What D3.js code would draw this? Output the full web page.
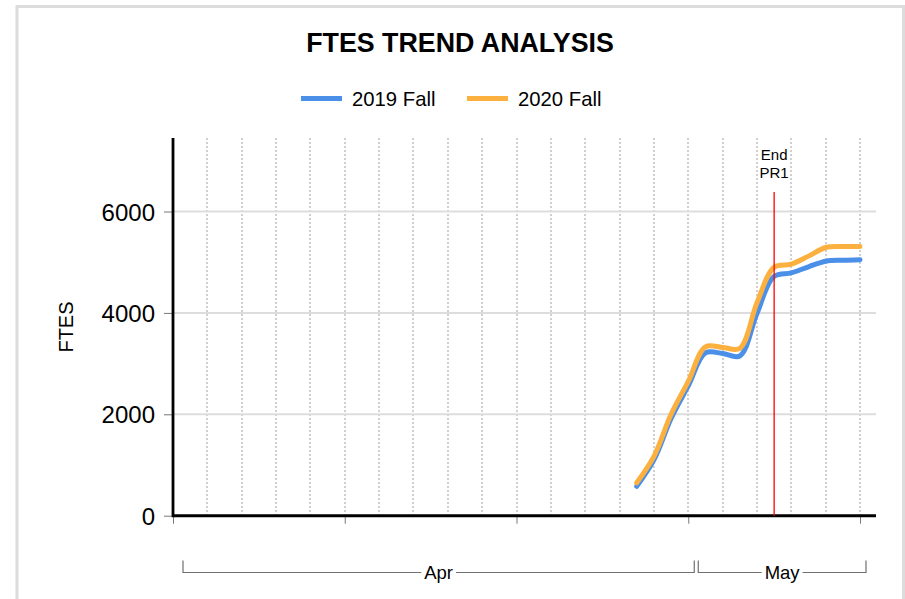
<!DOCTYPE html>
<html>
<head>
<meta charset="utf-8">
<script src="https://cdn.jsdelivr.net/npm/d3@7"></script>
<style>
  html, body { margin: 0; padding: 0; background: #fff; }
  svg { display: block; font-family: "Liberation Sans", Arial, sans-serif; }
</style>
</head>
<body>
<svg id="chart" width="905" height="599"></svg>
<script>
// ---- data ----
const dates = ["2020-04-28","2020-04-29","2020-04-30","2020-05-01","2020-05-02","2020-05-03","2020-05-04",
               "2020-05-05","2020-05-06","2020-05-07","2020-05-08","2020-05-09","2020-05-10","2020-05-11"];
const fall2019 = [580, 1100, 1920, 2560, 3210, 3200, 3150, 3990, 4720, 4790, 4910, 5020, 5040, 5050];
const fall2020 = [650, 1170, 2000, 2650, 3330, 3320, 3300, 4200, 4900, 4960, 5120, 5290, 5310, 5310];
const seriesNames = ["2019 Fall", "2020 Fall"];
const seriesColors = ["#4a8fe8", "#fbb040"];
const yTicks = [0, 2000, 4000, 6000];
const months = ["Apr", "May"];
const monthStarts = ["2020-04-01", "2020-05-01"];
const monthEnds = ["2020-05-01", "2020-06-01"];
const markerDate = "2020-05-06";
const markerLabel = ["End", "PR1"];
const domainStart = "2020-04-01T00:00";
const domainEnd = "2020-05-11T22:20";
const yMax = 7450;

(function () {
// ---- setup ----
const parse = d3.utcParse("%Y-%m-%d");
const parseT = d3.utcParse("%Y-%m-%dT%H:%M");
const svg = d3.select("#chart");
const pL = 173, pR = 876, pT = 138, pB = 515.7;

const x = d3.scaleUtc().domain([parseT(domainStart), parseT(domainEnd)]).range([pL, pR]);
const y = d3.scaleLinear().domain([0, yMax]).range([pB, pT]);

// outer border
svg.append("rect").attr("x", 17).attr("y", 6.5).attr("width", 886.5).attr("height", 620)
  .attr("fill", "#fff").attr("stroke", "#dcdcdc").attr("stroke-width", 3);

// title
svg.append("text").attr("x", 460).attr("y", 51.5).attr("text-anchor", "middle")
  .attr("font-size", 26.8).attr("font-weight", "bold").attr("fill", "#000")
  .text("FTES TREND ANALYSIS");

// legend
const legendPos = [301, 467];
seriesNames.forEach((name, i) => {
  const g = svg.append("g");
  g.append("line").attr("x1", legendPos[i]).attr("x2", legendPos[i] + 41)
    .attr("y1", 98.5).attr("y2", 98.5).attr("stroke", seriesColors[i]).attr("stroke-width", 5);
  g.append("text").attr("x", legendPos[i] + 51).attr("y", 106).attr("font-size", 20.3)
    .attr("fill", "#000").text(name);
});

// vertical dotted grid (every 2 days)
const gridDates = d3.utcDay.every(2).range(d3.utcDay.offset(parseT(domainStart), 2), parseT(domainEnd));
svg.append("g").selectAll("line").data(gridDates).join("line")
  .attr("x1", d => Math.round(x(d))).attr("x2", d => Math.round(x(d)))
  .attr("y1", pT).attr("y2", pB)
  .attr("stroke", "#cfcfcf").attr("stroke-width", 2).attr("stroke-dasharray", "2,2");

// horizontal grid
svg.append("g").selectAll("line").data(yTicks.filter(t => t > 0)).join("line")
  .attr("x1", pL).attr("x2", pR).attr("y1", d => y(d)).attr("y2", d => y(d))
  .attr("stroke", "#dddddd").attr("stroke-width", 2);

// y axis
const yAxis = svg.append("g").attr("transform", `translate(${pL},0)`)
  .call(d3.axisLeft(y).tickValues(yTicks).tickSize(9).tickPadding(9).tickFormat(d3.format("d")));
yAxis.select(".domain").remove();
yAxis.selectAll(".tick line").attr("stroke", "#777");
yAxis.selectAll(".tick text").attr("font-size", 24).attr("fill", "#000")
  .attr("font-family", "'Liberation Sans', Arial, sans-serif").attr("dy", "0.36em");
svg.append("line").attr("x1", pL).attr("x2", pL).attr("y1", pT).attr("y2", pB + 1.5)
  .attr("stroke", "#000").attr("stroke-width", 2.8);

// y axis title
svg.append("text").attr("transform", "translate(73,327) rotate(-90)")
  .attr("text-anchor", "middle").attr("font-size", 20).attr("fill", "#000").text("FTES");

// x axis ticks (every 10 days, no labels)
const xAxis = svg.append("g").attr("transform", `translate(0,${pB})`)
  .call(d3.axisBottom(x).tickValues(d3.range(0, 41, 10).map(k => d3.utcDay.offset(parseT(domainStart), k)))
    .tickSize(8).tickFormat(""));
xAxis.select(".domain").remove();
xAxis.selectAll(".tick line").attr("stroke", "#777");
svg.append("line").attr("x1", pL).attr("x2", pR).attr("y1", pB).attr("y2", pB)
  .attr("stroke", "#000").attr("stroke-width", 3);

// month brackets
const by = 572.5, bh = 12;
months.forEach((m, i) => {
  const x0 = x(parse(monthStarts[i])) + 10;
  const x1 = Math.min(x(parse(monthEnds[i])) + 6, pR - 10);
  const cx = (x0 + x1) / 2;
  const t = svg.append("text").attr("x", cx).attr("y", by + 6.5).attr("text-anchor", "middle")
    .attr("font-size", 18.5).attr("fill", "#000").text(m);
  const w = t.node().getComputedTextLength();
  const g = svg.append("g").attr("stroke", "#707070").attr("stroke-width", 1.2).attr("fill", "none");
  g.append("path").attr("d", `M${x0},${by - bh}V${by}H${cx - w / 2 - 3}`);
  g.append("path").attr("d", `M${cx + w / 2 + 3},${by}H${x1}V${by - bh}`);
});

// lines
const pts = [fall2019, fall2020].map(vals => vals.map((v, i) => ({ d: parse(dates[i]), v })));
const line = d3.line().x(p => x(p.d)).y(p => y(p.v)).curve(d3.curveCatmullRom.alpha(0.5));
pts.forEach((p, i) => {
  svg.append("path").datum(p).attr("d", line).attr("fill", "none")
    .attr("stroke", seriesColors[i]).attr("stroke-width", 5)
    .attr("stroke-linecap", "round").attr("stroke-linejoin", "round");
});

// marker line
const mx = x(parse(markerDate));
svg.append("line").attr("x1", mx).attr("x2", mx).attr("y1", 192).attr("y2", pB)
  .attr("stroke", "#ff0000").attr("stroke-width", 1.3);
markerLabel.forEach((s, i) => {
  svg.append("text").attr("x", mx).attr("y", 159.5 + i * 18).attr("text-anchor", "middle")
    .attr("font-size", 15).attr("fill", "#000").text(s);
});
})();
</script>
</body>
</html>
